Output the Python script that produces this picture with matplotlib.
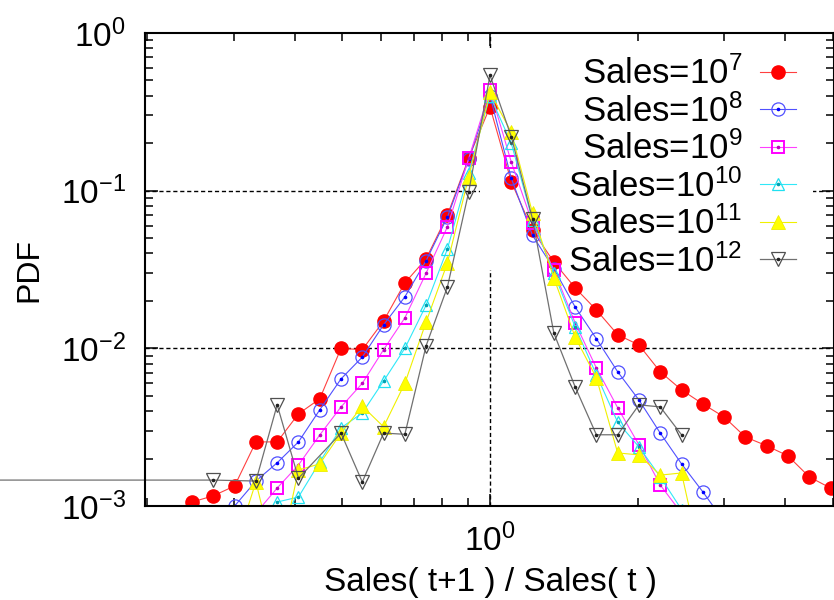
import numpy as np
import matplotlib
matplotlib.use("Agg")
import matplotlib.pyplot as plt
from matplotlib.patches import Rectangle
from matplotlib.ticker import NullFormatter, LogLocator

plt.rcParams['font.family'] = ['Liberation Sans', 'DejaVu Sans']
plt.rcParams['mathtext.fontset'] = 'custom'
plt.rcParams['mathtext.rm'] = 'Liberation Sans'
plt.rcParams['mathtext.it'] = 'Liberation Sans:italic'
plt.rcParams['mathtext.bf'] = 'Liberation Sans:bold'
plt.rcParams['axes.unicode_minus'] = False

# ---------------- data ----------------
# bin centres of Sales(t+1)/Sales(t) (log-spaced bins)
x_s7 = [0.2466, 0.2725, 0.3012, 0.3329, 0.3679, 0.4066, 0.4493, 0.4966, 0.5488,
        0.6065, 0.6703, 0.7408, 0.8187, 0.9048, 1.0, 1.1052, 1.2214, 1.3499,
        1.4918, 1.6487, 1.8221, 2.0138, 2.2255, 2.4596, 2.7183, 3.0042, 3.3201,
        3.6693, 4.0552, 4.4817, 4.9530]
y_s7 = [1.06e-3, 1.16e-3, 1.34e-3, 2.55e-3, 2.55e-3, 3.84e-3, 4.78e-3, 1.0e-2, 9.8e-3,
        1.49e-2, 2.6e-2, 3.7e-2, 7.0e-2, 0.161, 0.34, 0.114, 5.6e-2, 3.53e-2,
        2.42e-2, 1.75e-2, 1.22e-2, 1.05e-2, 7.1e-3, 5.45e-3, 4.44e-3, 3.67e-3, 2.74e-3,
        2.41e-3, 2.08e-3, 1.53e-3, 1.30e-3]

x_s8 = [0.3012, 0.3329, 0.3679, 0.4066, 0.4493, 0.4966, 0.5488, 0.6065, 0.6703,
        0.7408, 0.8187, 0.9048, 1.0, 1.1052, 1.2214, 1.3499, 1.4918, 1.6487,
        1.8221, 2.0138, 2.2255, 2.4596, 2.7183, 3.0042]
y_s8 = [1.0e-3, 1.44e-3, 1.88e-3, 2.55e-3, 4.07e-3, 6.4e-3, 8.8e-3, 1.41e-2, 2.12e-2,
        3.6e-2, 6.8e-2, 0.158, 0.40, 0.12, 5.2e-2, 3.2e-2, 1.83e-2, 1.15e-2,
        7.1e-3, 4.7e-3, 2.9e-3, 1.85e-3, 1.23e-3, 8.0e-4]

x_s9 = [0.3329, 0.3679, 0.4066, 0.4493, 0.4966, 0.5488, 0.6065, 0.6703, 0.7408,
        0.8187, 0.9048, 1.0, 1.1052, 1.2214, 1.3499, 1.4918, 1.6487, 1.8221,
        2.0138, 2.2255, 2.4596]
y_s9 = [9.0e-4, 1.3e-3, 1.82e-3, 2.82e-3, 4.25e-3, 6.0e-3, 9.8e-3, 1.56e-2, 3.0e-2,
        5.9e-2, 0.16, 0.435, 0.152, 6.2e-2, 3.14e-2, 1.45e-2, 7.5e-3, 4.2e-3,
        2.44e-3, 1.36e-3, 9.0e-4]

x_s10 = [0.3679, 0.4066, 0.4493, 0.4966, 0.5488, 0.6065, 0.6703, 0.7408, 0.8187,
         0.9048, 1.0, 1.1052, 1.2214, 1.3499, 1.4918, 1.6487, 1.8221, 2.0138,
         2.2255, 2.4596]
y_s10 = [1.06e-3, 1.14e-3, 1.9e-3, 3.13e-3, 3.89e-3, 6.2e-3, 1.0e-2, 1.88e-2, 4.27e-2,
         0.13, 0.40, 0.20, 6.5e-2, 3.0e-2, 1.37e-2, 6.8e-3, 3.4e-3, 2.37e-3,
         1.53e-3, 9.5e-4]

x_s11 = [0.3012, 0.3329, 0.3679, 0.4066, 0.4493, 0.4966, 0.5488, 0.6065, 0.6703,
         0.7408, 0.8187, 0.9048, 1.0, 1.1052, 1.2214, 1.3499, 1.4918, 1.6487,
         1.8221, 2.0138, 2.2255, 2.4596, 2.7183]
y_s11 = [5.4e-4, 1.42e-3, 4.0e-4, 1.69e-3, 1.85e-3, 2.9e-3, 4.3e-3, 3.18e-3, 6.0e-3,
         1.47e-2, 3.48e-2, 0.122, 0.42, 0.235, 7.2e-2, 2.8e-2, 1.18e-2, 6.5e-3,
         2.17e-3, 2.11e-3, 1.57e-3, 1.62e-3, 4.0e-4]

x_s12 = [0.0743, 0.2725, 0.3329, 0.3679, 0.4066, 0.4966, 0.5488, 0.6065, 0.6703,
         0.7408, 0.8187, 0.9048, 1.0, 1.1052, 1.2214, 1.3499, 1.4918, 1.6487,
         1.8221, 2.0138, 2.2255, 2.4596]
y_s12 = [1.46e-3, 1.46e-3, 1.44e-3, 4.38e-3, 1.5e-3, 2.9e-3, 1.42e-3, 2.9e-3, 2.85e-3,
         1.04e-2, 2.45e-2, 9.8e-2, 0.54, 0.22, 6.6e-2, 1.25e-2, 5.7e-3, 2.83e-3,
         2.83e-3, 4.38e-3, 4.25e-3, 2.83e-3]

labels = [r'Sales=$\mathregular{10^{7}}$', r'Sales=$\mathregular{10^{8}}$',
          r'Sales=$\mathregular{10^{9}}$', r'Sales=$\mathregular{10^{10}}$',
          r'Sales=$\mathregular{10^{11}}$', r'Sales=$\mathregular{10^{12}}$']

x_label = 'Sales( t+1 ) / Sales( t )'
y_label = 'PDF'

# ---------------- figure ----------------
W, H = 834, 600
fig = plt.figure(figsize=(W / 100, H / 100), dpi=100)
ax = fig.add_axes([145 / W, 94 / H, 689 / W, 473 / H])
ax.set_xscale('log')
ax.set_yscale('log')
ax.set_xlim(0.1977, 5.035)
ax.set_ylim(1e-3, 1.0)

# grid (gnuplot style dashed) at major ticks
grid_kw = dict(color='black', lw=1.0, dashes=(3, 2), zorder=0.5)
ax.axhline(0.1, **grid_kw)
ax.axhline(0.01, **grid_kw)
ax.axvline(1.0, **grid_kw)
# opaque key box
ax.add_patch(Rectangle((0.486, 0.499), 0.970 - 0.486, 0.968 - 0.499,
                       transform=ax.transAxes, facecolor='white',
                       edgecolor='none', zorder=1))

handles = []
# 10^7 red filled circles
l, = ax.plot(x_s7, y_s7, color='#ff4040', lw=0.8, marker='o', ms=9.5,
             mfc='#ff0000', mec='#ff0000', zorder=2)
handles.append((l,))
# 10^8 blue open circles
l, = ax.plot(x_s8, y_s8, color='#5050ff', lw=0.8, marker='o', ms=9.5,
             mfc='none', mec='#5050ff', mew=0.9, zorder=2.1)
d, = ax.plot(x_s8, y_s8, ls='none', marker='o', ms=1.6, color='#0000ff', zorder=2.1)
handles.append((l, d))
# 10^9 magenta open squares
l, = ax.plot(x_s9, y_s9, color='#ff40ff', lw=0.8, marker='s', ms=9,
             mfc='none', mec='#ff00ff', mew=1.4, zorder=2.2)
d, = ax.plot(x_s9, y_s9, ls='none', marker='o', ms=1.6, color='#c000c0', zorder=2.2)
handles.append((l, d))
# 10^10 cyan open triangles
l, = ax.plot(x_s10, y_s10, color='#30e8f8', lw=0.8, marker='^', ms=9,
             mfc='none', mec='#20e0f0', mew=0.9, zorder=2.3)
d, = ax.plot(x_s10, y_s10, ls='none', marker='o', ms=1.6, color='#00a0b0', zorder=2.3)
handles.append((l, d))
# 10^11 yellow filled triangles
l, = ax.plot(x_s11, y_s11, color='#f0f000', lw=0.8, marker='^', ms=10,
             mfc='#ffff00', mec='#eeee00', mew=0.6, zorder=2.4)
handles.append((l,))
# 10^12 gray open inverted triangles
l, = ax.plot(x_s12, y_s12, color='#707070', lw=0.9, marker='v', ms=9.5,
             mfc='none', mec='#505050', mew=0.9, zorder=2.5, clip_on=False)
d, = ax.plot(x_s12, y_s12, ls='none', marker='o', ms=1.6, color='#202020', zorder=2.5)
handles.append((l, d))

leg = ax.legend(handles, labels, loc='upper right', bbox_to_anchor=(0.945, 0.95),
                frameon=False, markerfirst=False, fontsize=25, handlelength=1.05,
                handletextpad=0.5, labelspacing=0.085, borderpad=0, borderaxespad=0,
                numpoints=1)
leg.set_zorder(3)

# ticks
ax.yaxis.set_major_locator(LogLocator(base=10, numticks=10))
ax.yaxis.set_minor_locator(LogLocator(base=10, subs=np.arange(2, 10), numticks=20))
ax.xaxis.set_minor_locator(LogLocator(base=10, subs=np.arange(2, 10), numticks=20))
ax.xaxis.set_minor_formatter(NullFormatter())
ax.yaxis.set_minor_formatter(NullFormatter())
ax.tick_params(which='both', direction='in', top=True, right=True, width=1.1)
ax.tick_params(which='major', length=9)
ax.tick_params(which='minor', length=5.5)
ax.tick_params(axis='y', which='major', labelsize=24, pad=14)
ax.tick_params(axis='x', which='major', labelsize=24, pad=13)
for s in ax.spines.values():
    s.set_linewidth(1.5)

ax.set_xlabel(x_label, fontsize=24)
ax.set_ylabel(y_label, fontsize=23)
ax.xaxis.set_label_coords(0.502, -0.128)
ax.yaxis.set_label_coords(-0.146, 0.5)

fig.savefig('out.png', dpi=100)
